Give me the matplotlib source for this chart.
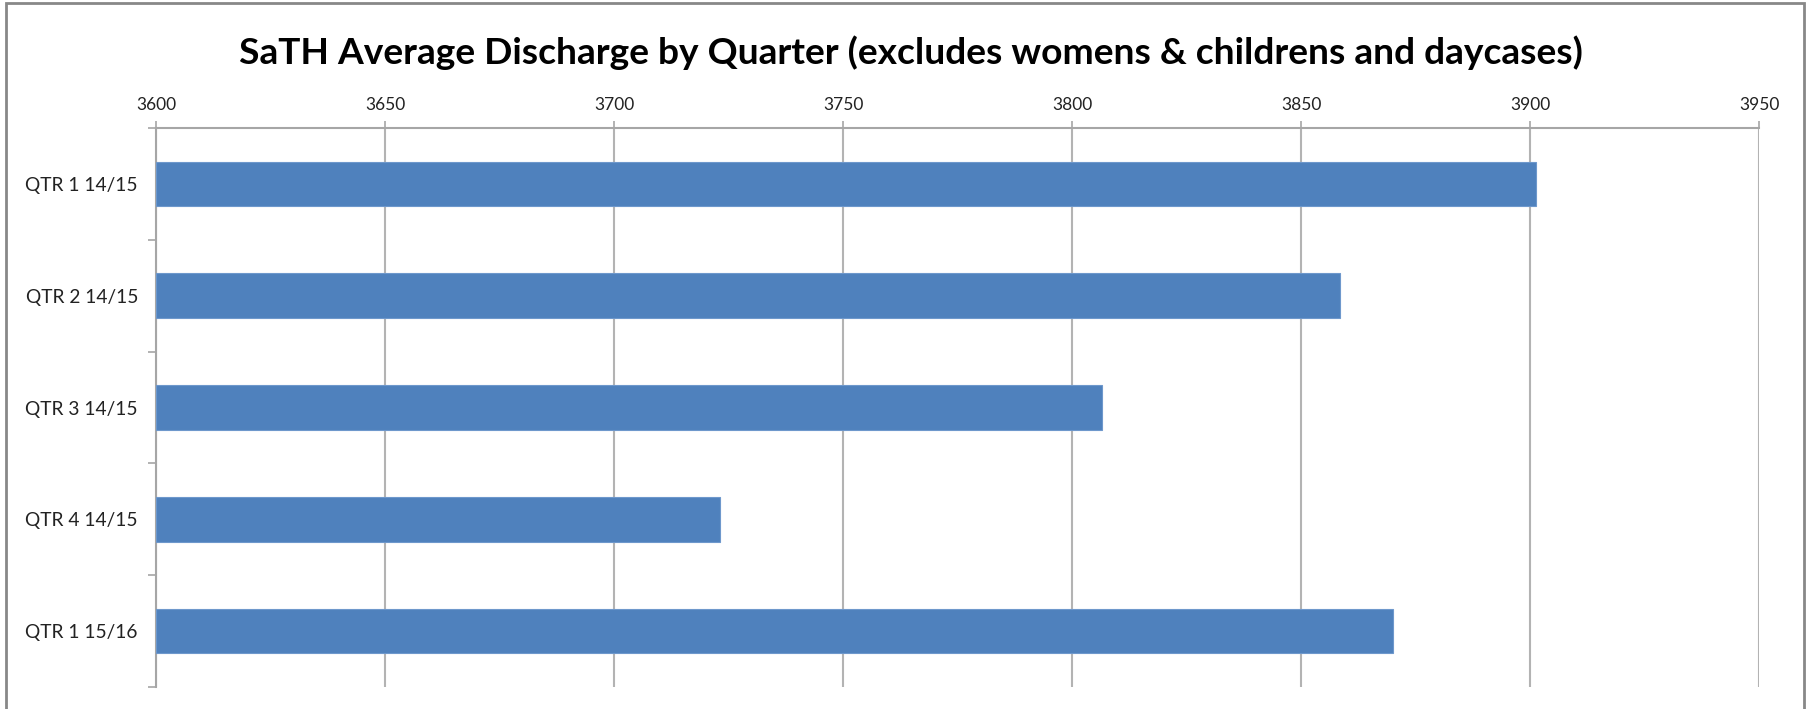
import matplotlib
matplotlib.use("Agg")
import matplotlib.pyplot as plt
from matplotlib.patches import Rectangle
import numpy as np

categories = ["QTR 1 14/15", "QTR 2 14/15", "QTR 3 14/15", "QTR 4 14/15", "QTR 1 15/16"]
values = [3901.3, 3858.5, 3806.6, 3723.2, 3870.0]
xticks = [3600, 3650, 3700, 3750, 3800, 3850, 3900, 3950]
title = "SaTH Average Discharge by Quarter (excludes womens & childrens and daycases)"

plt.rcParams['font.family'] = ['Lato', 'DejaVu Sans']

W, H = 1810, 709
fig = plt.figure(figsize=(W / 100, H / 100), dpi=100)
ax = fig.add_axes([156 / W, 1 - 687 / H, (1759 - 156) / W, (687 - 128) / H])

y = np.arange(len(categories))
ax.barh(y, [v - xticks[0] for v in values], left=xticks[0], height=0.4,
        color="#4F81BD", edgecolor="#6E98CC", linewidth=0.8, zorder=3)

ax.set_xlim(xticks[0], xticks[-1])
ax.set_ylim(len(categories) - 0.5, -0.5)
ax.xaxis.tick_top()
ax.set_xticks(xticks)
ax.set_xticklabels([str(t) for t in xticks], fontsize=12.5, color="#222222")
ax.tick_params(axis='x', which='major', length=5, width=1.2, color="#a6a6a6", pad=6)

ax.set_yticks(y)
ax.set_yticklabels(categories, fontsize=13.8, color="#222222")
ax.tick_params(axis='y', which='major', length=0, pad=13)
ax.set_yticks(np.arange(-0.5, len(categories) + 0.5, 1), minor=True)
ax.tick_params(axis='y', which='minor', length=6, width=1.2, color="#a6a6a6")

ax.grid(axis='x', color="#b3b3b3", linewidth=1.5, zorder=0)
ax.set_axisbelow(True)
for s in ['right', 'bottom']:
    ax.spines[s].set_visible(False)
for s in ['top', 'left']:
    ax.spines[s].set_color("#a6a6a6")
    ax.spines[s].set_linewidth(1.5)

fig.text(0.5035, 1 - 53 / H, title, ha='center', va='center', fontsize=26.7,
         fontweight='bold', color="#000000")

fig.patches.append(Rectangle((6 / W, -0.05), (1804 - 6) / W, 1.05 - 3 / H,
                             transform=fig.transFigure, fill=False,
                             edgecolor="#888888", linewidth=2))

fig.savefig("out.png", dpi=100)
